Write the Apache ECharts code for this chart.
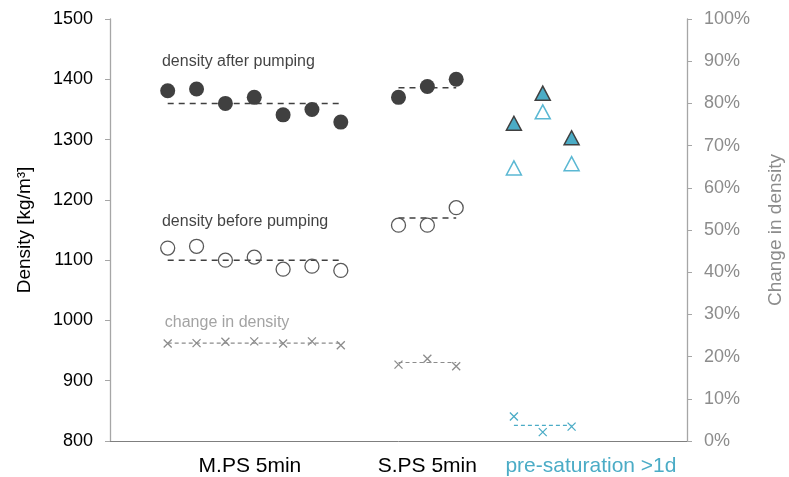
<!DOCTYPE html>
<html>
<head>
<meta charset="utf-8">
<script src="https://cdn.jsdelivr.net/npm/echarts@6/dist/echarts.min.js"></script>
<style>
html,body{margin:0;padding:0;background:#fff;}
#chart{width:789px;height:477px;}
</style>
</head>
<body>
<div id="chart"></div>
<script>
// Category labels and their positions on the hidden value x-axis
const categoryLabels = ['M.PS 5min', 'S.PS 5min', 'pre-saturation >1d'];
const categoryPos = [4.85, 11.0, 16.67];

// x slots of individual measurements
const mpsX = [2, 3, 4, 5, 6, 7, 8];
const spsX = [10, 11, 12];
const preX = [14, 15, 16];

// Density after pumping [kg/m3]
const mpsAfter = [1381, 1384, 1360, 1370, 1341, 1350, 1329];
const spsAfter = [1370, 1388, 1400];
const preAfter = [1327, 1377, 1303];

// Density before pumping [kg/m3]
const mpsBefore = [1120, 1123, 1100, 1105, 1085, 1090, 1083];
const spsBefore = [1158, 1158, 1187];
const preBefore = [1253, 1346, 1260];

// Change in density [%]
const mpsChange = [23.1, 23.2, 23.5, 23.6, 23.1, 23.6, 22.7];
const spsChange = [18.1, 19.5, 17.7];
const preChange = [5.8, 2.1, 3.4];

// Mean lines
const meanAfter = [1360, 1386];
const meanBefore = [1100, 1170];
const meanChange = [23.2, 18.6, 3.7];

// Annotation texts
const annotationTexts = ['density after pumping', 'density before pumping', 'change in density'];
const annotationX = [1.8, 1.8, 1.9];
const annotationY = [1429, 1164, 997];

const yTicksLeft = [800, 1500, 100];
const yTicksRight = [0, 100, 10];

const DARK = '#404040';
const GRAY = '#8c8c8c';
const BLUE = '#4bacc6';
const FONT = '"Liberation Sans", Arial, sans-serif';

function pts(xs, ys) { return xs.map((x, i) => [x, ys[i]]); }
function seg(xs, v) { return [[xs[0], v], [xs[xs.length - 1], v]]; }

const crossPath = 'path://M0,0L10,10M10,0L0,10';

const chart = echarts.init(document.getElementById('chart'), null, { renderer: 'canvas' });

const option = {
  animation: false,
  backgroundColor: '#fff',
  textStyle: { fontFamily: FONT },
  grid: { left: 110, right: 102, top: 19, bottom: 36, containLabel: false, outerBoundsMode: 'none' },
  xAxis: {
    type: 'value', min: 0, max: 20,
    axisLine: { show: true, lineStyle: { color: '#7f7f7f', width: 1 } },
    axisTick: { show: false },
    splitLine: { show: false },
    axisLabel: {
      customValues: categoryPos,
      margin: 15,
      fontSize: 21,
      fontFamily: FONT,
      formatter: function (v) {
        const i = categoryPos.indexOf(v);
        if (i < 0) return '';
        return i === 2 ? '{b|' + categoryLabels[i] + '}' : '{a|' + categoryLabels[i] + '}';
      },
      rich: {
        a: { color: '#000', fontSize: 21, fontFamily: FONT },
        b: { color: BLUE, fontSize: 21, fontFamily: FONT }
      }
    }
  },
  yAxis: [
    {
      type: 'value', min: yTicksLeft[0], max: yTicksLeft[1], interval: yTicksLeft[2],
      position: 'left',
      name: 'Density [kg/m³]',
      nameLocation: 'middle', nameRotate: 90, nameGap: 76,
      nameTextStyle: { color: '#000', fontSize: 19, fontFamily: FONT },
      axisLine: { show: true, lineStyle: { color: '#a6a6a6', width: 1.3 } },
      axisTick: { show: true, length: 5, lineStyle: { color: '#a6a6a6' } },
      splitLine: { show: false },
      axisLabel: { color: '#000', fontSize: 18, margin: 17, fontFamily: FONT,
        formatter: function (v) { return String(v); } }
    },
    {
      type: 'value', min: yTicksRight[0], max: yTicksRight[1], interval: yTicksRight[2],
      position: 'right',
      name: 'Change in density',
      nameLocation: 'middle', nameRotate: 90, nameGap: 79,
      nameTextStyle: { color: GRAY, fontSize: 19, fontFamily: FONT },
      axisLine: { show: true, lineStyle: { color: '#a6a6a6', width: 1.3 } },
      axisTick: { show: true, length: 5, lineStyle: { color: '#a6a6a6' } },
      splitLine: { show: false },
      axisLabel: { color: GRAY, fontSize: 18, margin: 17, fontFamily: FONT,
        formatter: function (v) { return v + '%'; } }
    }
  ],
  series: [
    // mean lines (drawn first, beneath markers)
    { type: 'line', yAxisIndex: 0, data: seg(mpsX, meanAfter[0]), symbol: 'none', z: 1,
      lineStyle: { color: DARK, width: 1.5, type: [6, 5] } },
    { type: 'line', yAxisIndex: 0, data: seg(spsX, meanAfter[1]), symbol: 'none', z: 1,
      lineStyle: { color: DARK, width: 1.5, type: [6, 5] } },
    { type: 'line', yAxisIndex: 0, data: seg(mpsX, meanBefore[0]), symbol: 'none', z: 1,
      lineStyle: { color: DARK, width: 1.5, type: [6, 5] } },
    { type: 'line', yAxisIndex: 0, data: seg(spsX, meanBefore[1]), symbol: 'none', z: 1,
      lineStyle: { color: DARK, width: 1.5, type: [6, 5] } },
    { type: 'line', yAxisIndex: 1, data: seg(mpsX, meanChange[0]), symbol: 'none', z: 1,
      lineStyle: { color: GRAY, width: 1.2, type: [4, 3] } },
    { type: 'line', yAxisIndex: 1, data: seg(spsX, meanChange[1]), symbol: 'none', z: 1,
      lineStyle: { color: GRAY, width: 1.2, type: [4, 3] } },
    { type: 'line', yAxisIndex: 1, data: seg(preX, meanChange[2]), symbol: 'none', z: 1,
      lineStyle: { color: BLUE, width: 1.2, type: [4, 3] } },

    // density after pumping
    { type: 'scatter', yAxisIndex: 0, data: pts(mpsX, mpsAfter).concat(pts(spsX, spsAfter)),
      symbol: 'circle', symbolSize: 15, z: 3, itemStyle: { color: DARK, opacity: 1 } },
    { type: 'scatter', yAxisIndex: 0, data: pts(preX, preAfter),
      symbol: 'triangle', symbolSize: [15, 14], z: 3,
      itemStyle: { color: BLUE, borderColor: DARK, borderWidth: 1.5, opacity: 1 } },

    // density before pumping
    { type: 'scatter', yAxisIndex: 0, data: pts(mpsX, mpsBefore).concat(pts(spsX, spsBefore)),
      symbol: 'circle', symbolSize: 14, z: 3,
      itemStyle: { color: 'rgba(255,255,255,0)', borderColor: '#595959', borderWidth: 1.3, opacity: 1 } },
    { type: 'scatter', yAxisIndex: 0, data: pts(preX, preBefore),
      symbol: 'triangle', symbolSize: [15, 14], z: 3,
      itemStyle: { color: 'rgba(255,255,255,0)', borderColor: '#5bb8d3', borderWidth: 1.5, opacity: 1 } },

    // change in density
    { type: 'scatter', yAxisIndex: 1, data: pts(mpsX, mpsChange).concat(pts(spsX, spsChange)),
      symbol: crossPath, symbolSize: 8, z: 3,
      itemStyle: { color: 'rgba(0,0,0,0)', borderColor: GRAY, borderWidth: 1.3, opacity: 1 } },
    { type: 'scatter', yAxisIndex: 1, data: pts(preX, preChange),
      symbol: crossPath, symbolSize: 8, z: 3,
      itemStyle: { color: 'rgba(0,0,0,0)', borderColor: BLUE, borderWidth: 1.3, opacity: 1 } },

    // annotations
    { type: 'scatter', yAxisIndex: 0, symbolSize: 0, z: 4, silent: true,
      data: annotationTexts.map((t, i) => ({ value: [annotationX[i], annotationY[i]], name: t })),
      label: {
        show: true, position: 'right', distance: 0, fontSize: 16, fontFamily: FONT,
        formatter: p => p.name,
        color: '#111'
      },
      emphasis: { disabled: true }
    }
  ]
};
option.series[option.series.length - 1].data[2].label = { color: GRAY };
chart.setOption(option);
</script>
</body>
</html>
